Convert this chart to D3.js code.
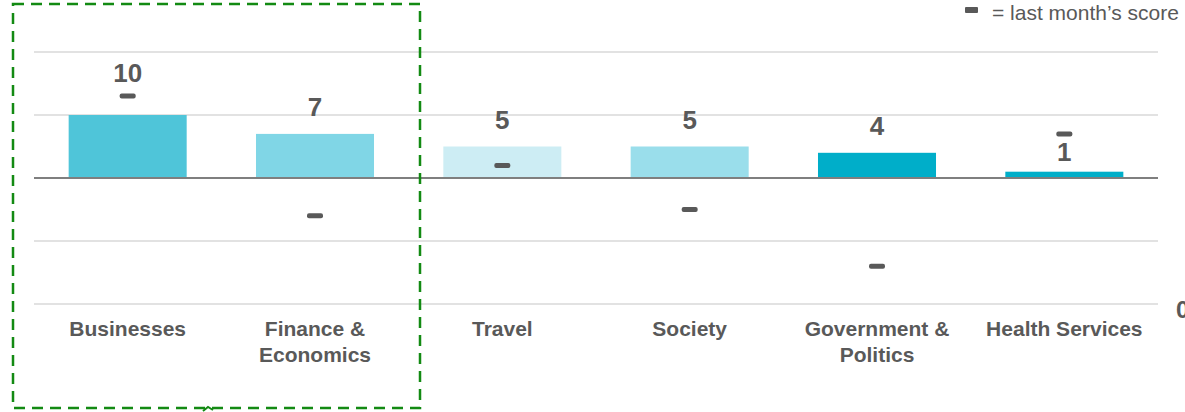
<!DOCTYPE html>
<html>
<head>
<meta charset="utf-8">
<script src="https://cdn.jsdelivr.net/npm/d3@7"></script>
<style>
  body { margin: 0; background: #fff; }
  svg { display: block; font-family: "Liberation Sans", Arial, sans-serif; }
  .grid line { stroke: #d9d9d9; stroke-width: 1.5; }
  .cat { fill: #595959; font-weight: bold; font-size: 21px; }
  .val { fill: #595959; font-weight: bold; font-size: 26px; }
</style>
</head>
<body>
<svg width="1185" height="412"></svg>
<script>
// chart data
var categories = ["Businesses", "Finance & Economics", "Travel", "Society", "Government & Politics", "Health Services"];
var catLines = [["Businesses"], ["Finance &", "Economics"], ["Travel"], ["Society"], ["Government &", "Politics"], ["Health Services"]];
var scores = [10, 7, 5, 5, 4, 1];
var lastMonth = [13, -6, 2, -5, -14, 7];
var barColors = ["#4fc5d9", "#80d6e6", "#cdedf4", "#9adeeb", "#00aec9", "#00aec9"];
var gridTicks = [-20, -10, 0, 10, 20];

var svg = d3.select("svg");
var margin = { top: 52, right: 27, bottom: 108, left: 34 };
var width = 1185 - margin.left - margin.right,
    height = 412 - margin.top - margin.bottom;

var x = d3.scaleBand().domain(categories).range([margin.left, margin.left + width])
    .paddingInner(0.37).paddingOuter(0.185);
var y = d3.scaleLinear().domain([-20, 20]).range([margin.top + height, margin.top]);

function cx(i) { return x(categories[i]) + x.bandwidth() / 2; }

// gridlines
svg.append("g").attr("class", "grid")
  .selectAll("line").data(gridTicks.filter(function(d) { return d != 0; }))
  .enter().append("line")
  .attr("x1", margin.left).attr("x2", margin.left + width)
  .attr("y1", function(d) { return y(d); }).attr("y2", function(d) { return y(d); });

// bars
svg.selectAll(".bar").data(scores).enter().append("rect")
  .attr("class", "bar")
  .attr("x", function(d, i) { return x(categories[i]); })
  .attr("width", x.bandwidth())
  .attr("y", function(d) { return y(d); })
  .attr("height", function(d) { return y(0) - y(d); })
  .style("fill", function(d, i) { return barColors[i]; });

// zero line
svg.append("line")
  .attr("x1", margin.left).attr("x2", margin.left + width)
  .attr("y1", y(0)).attr("y2", y(0))
  .attr("stroke", "#7f7f7f").attr("stroke-width", 2);

// last month markers
svg.selectAll(".mark").data(lastMonth).enter().append("rect")
  .attr("class", "mark")
  .attr("x", function(d, i) { return cx(i) - 8; })
  .attr("y", function(d) { return y(d) - 2.5; })
  .attr("width", 16).attr("height", 5).attr("rx", 2)
  .style("fill", "#595959");

// value labels - sit above the bar, or above the marker if it is right on top
svg.selectAll(".val").data(scores).enter().append("text")
  .attr("class", "val")
  .attr("text-anchor", "middle")
  .attr("x", function(d, i) { return cx(i); })
  .attr("y", function(d, i) {
    var top = y(d), c = top - 27;
    var gap = top - y(lastMonth[i]);
    if (gap > 0 && gap < 30) c = y(lastMonth[i]) - 23;
    else if (gap >= 30 && gap < 45) c = top - 20;
    return c + 9;
  })
  .text(function(d) { return d; });

// category labels
var cat = svg.selectAll(".cat").data(catLines).enter().append("text")
  .attr("class", "cat")
  .attr("text-anchor", "middle")
  .attr("x", function(d, i) { return cx(i); })
  .attr("y", 336);
cat.selectAll("tspan").data(function(d) { return d; }).enter().append("tspan")
  .attr("x", function() { return d3.select(this.parentNode).attr("x"); })
  .attr("dy", function(d, j) { return j ? 26 : 0; })
  .text(function(d) { return d; });

// axis label at the right edge (cut off in the original too)
svg.append("text").attr("class", "val").attr("x", 1176).attr("y", 318)
  .style("font-size", "24px").text("0");

// legend
svg.append("rect").attr("x", 965).attr("y", 7).attr("width", 13).attr("height", 6)
  .attr("rx", 1).style("fill", "#595959");
svg.append("text").attr("x", 992).attr("y", 20)
  .style("font-size", "21px").style("fill", "#595959")
  .text("= last month\u2019s score");

// highlight box
svg.append("rect").attr("x", 13).attr("y", 4).attr("width", 407).attr("height", 404)
  .attr("fill", "none").attr("stroke", "#138a13").attr("stroke-width", 2.5)
  .attr("stroke-dasharray", "11,7");
svg.append("path").attr("d", "M203,411 L208,407 L213,410")
  .attr("fill", "none").attr("stroke", "#138a13").attr("stroke-width", 2);
</script>
</body>
</html>
